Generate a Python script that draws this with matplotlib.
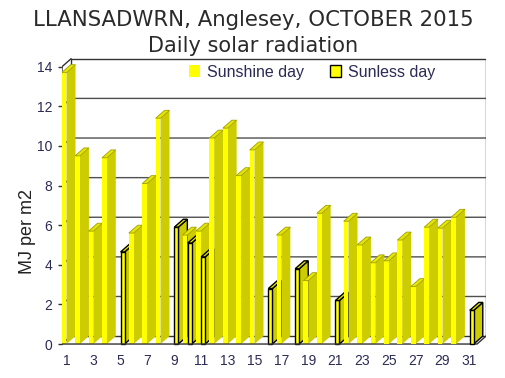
import matplotlib
matplotlib.use("Agg")
import matplotlib.pyplot as plt
from matplotlib.patches import Polygon, Patch

# daily solar radiation, MJ per m2 (0 = no bar in that series)
days = list(range(1, 32))
sunshine = [13.7, 9.5, 5.7, 9.4, 0, 5.6, 8.1, 11.4, 0, 5.5,
            5.7, 10.4, 10.9, 8.5, 9.8, 0, 5.5, 0, 3.2, 6.6,
            0, 6.2, 5.0, 4.1, 4.2, 5.25, 2.9, 5.9, 5.85, 6.4, 0]
sunless = [0, 0, 0, 0, 4.65, 0, 0, 0, 5.9, 5.1,
           4.4, 0, 0, 0, 0, 2.8, 0, 3.8, 0, 0,
           2.2, 0, 0, 0, 0, 0, 0, 0, 0, 0, 1.7]
xticks = list(range(1, 32, 2))
yticks = list(range(0, 15, 2))

# fake 3D depth (data units)
DX = 0.67
DY = 0.4
X0 = 0.665
X1 = 31.57
YTOP = 14

YELLOW = '#ffff00'
OLIVE = '#cccc00'
TOP = '#e6e600'
TXT = '#2b2b55'


def bar3d(ax, x, w, h, edge, lw, z):
    front = Polygon([(x, 0), (x + w, 0), (x + w, h), (x, h)],
                    facecolor=YELLOW, edgecolor=edge, lw=lw, zorder=z)
    side = Polygon([(x + w, 0), (x + w + DX, DY), (x + w + DX, h + DY), (x + w, h)],
                   facecolor=OLIVE, edgecolor=edge, lw=lw, zorder=z)
    top = Polygon([(x, h), (x + w, h), (x + w + DX, h + DY), (x + DX, h + DY)],
                  facecolor=TOP, edgecolor=edge if edge != 'none' else '#a0a000',
                  lw=lw if edge != 'none' else 0.6, zorder=z)
    for p in (side, front, top):
        ax.add_patch(p)


fig = plt.figure(figsize=(5.06, 3.78), dpi=100)
ax = fig.add_axes([62 / 506, 1 - 347 / 378, (486 - 62) / 506, (347 - 58) / 378])
ax.set_xlim(X0, X1 + DX)
ax.set_ylim(-0.15, 14.44)
for s in ax.spines.values():
    s.set_visible(False)

# walls and grid
grid_col = '#505050'
for v in yticks[1:-1]:
    ax.plot([X0, X0 + DX, X1 + DX], [v, v + DY, v + DY], color=grid_col, lw=1, zorder=2)
# back wall frame
ax.plot([X0 + DX, X1 + DX, X1 + DX, X0 + DX, X0 + DX],
        [DY, DY, YTOP + DY, YTOP + DY, DY], color='#333333', lw=1, zorder=2)
# left wall
ax.plot([X0, X0, X0 + DX], [0, YTOP, YTOP + DY], color='#333333', lw=1, zorder=3)
# floor
ax.plot([X0, X1, X1 + DX], [0, 0, DY], color='#333333', lw=1, zorder=60)
ax.plot([X0, X0 + DX], [0, DY], color='#333333', lw=1, zorder=3)

for d, ss, sl in zip(days, sunshine, sunless):
    if ss > 0:
        bar3d(ax, d - 0.36, 0.36, ss, 'none', 0, 10 + 2 * d)
    if sl > 0:
        bar3d(ax, d + 0.03, 0.3, sl, 'black', 1, 11 + 2 * d)

ax.set_xticks(xticks)
ax.set_xticklabels([str(t) for t in xticks])
ax.set_yticks(yticks)
ax.tick_params(axis='x', length=0, pad=5, labelsize=10, labelcolor=TXT)
ax.tick_params(axis='y', length=3, width=1, color='#333333', pad=4,
               labelsize=10, labelcolor=TXT)
for lab in ax.get_xticklabels() + ax.get_yticklabels():
    lab.set_family('Liberation Sans')

fig.text(28 / 506, 1 - 232 / 378, 'MJ per m2', rotation=90, ha='center', va='center',
         fontsize=13, family='Liberation Sans', color='#222222')

fig.text(0.5, 1 - 20 / 378, 'LLANSADWRN, Anglesey, OCTOBER 2015', ha='center', va='center',
         fontsize=15.3, family='DejaVu Sans', color='#2a2a2a')
fig.text(0.5, 1 - 46 / 378, 'Daily solar radiation', ha='center', va='center',
         fontsize=15, family='DejaVu Sans', color='#2a2a2a')

handles = [Patch(facecolor=YELLOW, edgecolor='none'),
           Patch(facecolor=YELLOW, edgecolor='black', lw=1)]
leg = ax.legend(handles, ['Sunshine day', 'Sunless day'], ncol=2, frameon=False,
                loc='center left', bbox_to_anchor=(189 / 506, 1 - 72 / 378),
                bbox_transform=fig.transFigure, handlelength=0.7, handleheight=0.7,
                handletextpad=0.45, columnspacing=1.6, borderpad=0, borderaxespad=0,
                prop={'family': 'Liberation Sans', 'size': 11.5})
for t in leg.get_texts():
    t.set_color(TXT)

fig.savefig('out.png', dpi=100)
